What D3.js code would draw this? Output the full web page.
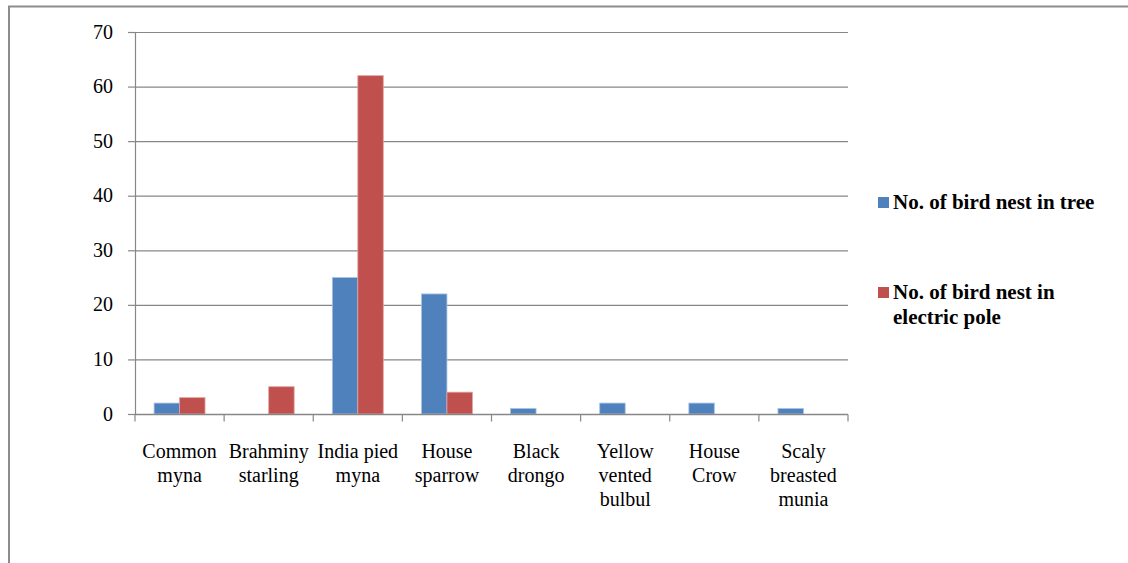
<!DOCTYPE html>
<html>
<head>
<meta charset="utf-8">
<script src="https://cdn.jsdelivr.net/npm/d3@7"></script>
<style>
  body { margin: 0; background: #fff; }
  svg text { font-family: 'Liberation Serif', serif; }
</style>
</head>
<body>
<svg id="chart" width="1128" height="563"></svg>
<script>
// chart data
const categories = [
  ["Common", "myna"],
  ["Brahminy", "starling"],
  ["India pied", "myna"],
  ["House", "sparrow"],
  ["Black", "drongo"],
  ["Yellow", "vented", "bulbul"],
  ["House", "Crow"],
  ["Scaly", "breasted", "munia"]
];
const treeNests = [2, 0, 25, 22, 1, 2, 2, 1];
const poleNests = [3, 5, 62, 4, 0, 0, 0, 0];
const seriesNames = [["No. of bird nest in tree"], ["No. of bird nest in", "electric pole"]];
const yTicks = [0, 10, 20, 30, 40, 50, 60, 70];

const colors = ["#4F81BD", "#C0504D"];
const FONT = "'Liberation Serif', serif";
const svg = d3.select("#chart");

// outer frame (only top and left edges visible)
svg.append("path")
    .attr("d", "M9,563 V6.5 H1128")
    .attr("fill", "none")
    .attr("stroke", "#8c8c8c")
    .attr("stroke-width", 2);

const margin = { left: 135, top: 32, right: 848, bottom: 414 };

const keys = categories.map((d, i) => i);
const x = d3.scaleBand()
    .domain(keys)
    .range([margin.left, margin.right]);

const inner = d3.scaleBand()
    .domain([0, 1])
    .range([0, x.bandwidth()])
    .paddingOuter(0.75)
    .paddingInner(0);

const y = d3.scaleLinear()
    .domain([0, 70])
    .range([margin.bottom, margin.top]);

// gridlines
svg.append("g")
    .selectAll("line")
    .data(yTicks.filter(d => d > 0))
    .join("line")
    .attr("x1", margin.left)
    .attr("x2", margin.right)
    .attr("y1", d => y(d) + 0.5)
    .attr("y2", d => y(d) + 0.5)
    .attr("stroke", "#878787")
    .attr("stroke-width", 1.2);

// y axis
const yAxis = svg.append("g")
    .attr("transform", `translate(${margin.left},0)`)
    .call(d3.axisLeft(y).tickValues(yTicks).tickSize(7).tickPadding(15));
yAxis.attr("font-family", FONT).attr("font-size", 20);
yAxis.select(".domain").attr("stroke", "#878787").attr("stroke-width", 1.2);
yAxis.selectAll(".tick line").attr("stroke", "#878787").attr("stroke-width", 1.2);
yAxis.selectAll("text")
    .attr("fill", "#000")
    .attr("dy", "0.3em");

// bars
const groups = svg.append("g")
    .selectAll("g")
    .data(keys)
    .join("g")
    .attr("transform", d => `translate(${x(d)},0)`);

groups.selectAll("rect")
    .data(i => [treeNests[i], poleNests[i]].map((v, s) => ({ v, s })).filter(d => d.v > 0))
    .join("rect")
    .attr("x", d => inner(d.s))
    .attr("y", d => y(d.v))
    .attr("width", inner.bandwidth())
    .attr("height", d => y(0) - y(d.v))
    .attr("fill", d => colors[d.s])
    .attr("stroke", d => d.s === 0 ? "#a9c1e3" : "#e0a3a1")
    .attr("stroke-width", 0.8);

// x axis
const xAxis = svg.append("g")
    .attr("transform", `translate(0,${margin.bottom + 0.5})`);
xAxis.append("line")
    .attr("x1", margin.left)
    .attr("x2", margin.right)
    .attr("stroke", "#878787")
    .attr("stroke-width", 1.5);
xAxis.selectAll(".xt")
    .data(keys.concat([keys.length]))
    .join("line")
    .attr("class", "xt")
    .attr("x1", d => d < keys.length ? x(d) : margin.right)
    .attr("x2", d => d < keys.length ? x(d) : margin.right)
    .attr("y1", 0)
    .attr("y2", 7)
    .attr("stroke", "#878787")
    .attr("stroke-width", 1.2);

const labels = svg.append("g")
    .selectAll("text")
    .data(keys)
    .join("text")
    .attr("x", d => x(d) + x.bandwidth() / 2)
    .attr("y", 458)
    .attr("text-anchor", "middle")
    .attr("font-family", FONT)
    .attr("font-size", 20)
    .attr("fill", "#000");
labels.selectAll("tspan")
    .data(d => categories[d].map(t => ({ t, cx: x(d) + x.bandwidth() / 2 })))
    .join("tspan")
    .attr("x", d => d.cx)
    .attr("dy", (d, i) => i === 0 ? 0 : 24)
    .text(d => d.t);

// legend
const legendY = [209, 299];
const legend = svg.append("g")
    .selectAll("g")
    .data(seriesNames)
    .join("g")
    .attr("transform", (d, i) => `translate(878,${legendY[i]})`);
legend.append("rect")
    .attr("x", 0)
    .attr("y", -12)
    .attr("width", 11)
    .attr("height", 11)
    .attr("fill", (d, i) => colors[i]);
legend.append("text")
    .attr("x", 15)
    .attr("font-family", FONT)
    .attr("font-size", 21)
    .attr("font-weight", "bold")
    .attr("fill", "#000")
    .selectAll("tspan")
    .data(d => d)
    .join("tspan")
    .attr("x", 15)
    .attr("dy", (d, i) => i === 0 ? 0 : 25)
    .text(d => d);
</script>
</body>
</html>
